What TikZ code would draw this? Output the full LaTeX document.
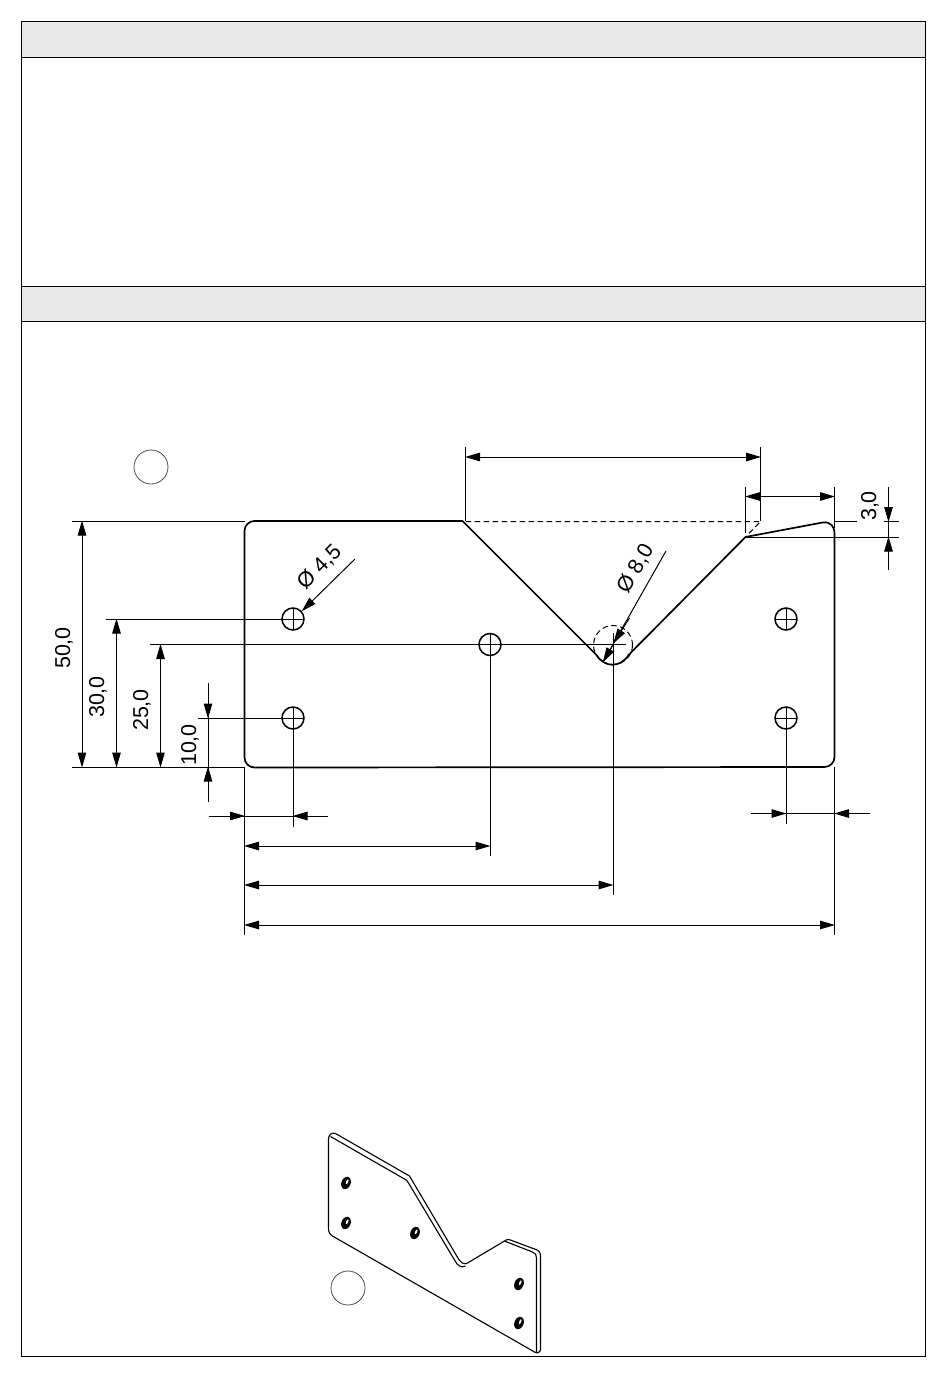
\documentclass[tikz,border=0pt]{standalone}
\usepackage{fontspec}
\setmainfont{Liberation Sans}
\usetikzlibrary{arrows.meta}
\tikzset{
  x=1pt,y=-1pt,
  frameline/.style={draw=black,line width=1pt},
  headerbar/.style={frameline,fill=black!9},
  part/.style={draw=black,line width=1.7pt,line join=round},
  thin3d/.style={draw=black,line width=1.1pt,line join=round},
  hidden/.style={draw=black,line width=1pt,dash pattern=on 5.5pt off 3.5pt},
  ext/.style={draw=black,line width=1pt},
  dimtip/.style={-{Triangle[length=15pt,width=8.5pt]},line width=1pt,shorten >=-0.5pt},
  dim/.style={{Triangle[length=15pt,width=8.5pt]}-{Triangle[length=15pt,width=8.5pt]},line width=1pt,shorten >=-0.5pt,shorten <=-0.5pt},
  dimtext/.style={font=\fontsize{21.5}{21.5}\selectfont,inner sep=0pt},
  hole/.style={draw=black,line width=1.5pt},
  callout/.style={draw=black!70,line width=0.8pt,fill=white},
}
\newcommand{\Hole}[2]{%
  \draw[hole] (#1,#2) circle[radius=11];
  \draw[ext,line width=0.8pt] (#1-11,#2) -- (#1+11,#2) (#1,#2-11) -- (#1,#2+11);
}
\newcommand{\IsoHole}[2]{%
  \fill[black] (#1,#2) ellipse[x radius=4.6,y radius=6.4,rotate=-22];
  \fill[white] (#1+1.2,#2-1.2) ellipse[x radius=1,y radius=2.6,rotate=-22];
}
\begin{document}
\begin{tikzpicture}
\useasboundingbox (0,0) rectangle (950,1378);
\fill[white] (0,0) rectangle (950,1378);
\begin{scope}[xshift=-0.5pt]
% frame
\draw[headerbar] (22,22) rectangle (926,57.5);
\draw[headerbar] (22,286) rectangle (926,321);
\draw[frameline] (22,22) rectangle (926,1356.5);
% callouts
\node[callout,circle,minimum size=34pt,inner sep=0pt] (callA) at (151.5,467) {};
\node[callout,circle,minimum size=34pt,inner sep=0pt] (callB) at (348.5,1288) {};
% plate outline
\draw[part] (255,521) -- (463,521) -- (597,655)
  .. controls (605,668) and (621,668) .. (629,655)
  -- (746,537) -- (823,522.5)
  .. controls (831,521.5) and (835,526) .. (835,534)
  -- (835,757) arc[start angle=0,end angle=90,radius=10]
  -- (255,767.5) arc[start angle=90,end angle=180,radius=10]
  -- (245,531) arc[start angle=180,end angle=270,radius=10] -- cycle;
% hidden construction lines
\draw[hidden] (466,521.5) -- (761,521.5) -- (746,537);
\draw[hidden] (613.5,645) circle[radius=19.5];
% holes
\Hole{293.5}{619}
\Hole{293.5}{718}
\Hole{490.5}{644.5}
\Hole{786.5}{619}
\Hole{786.5}{718}
% extension lines
\draw[ext] (72,521) -- (245,521);
\draw[ext] (72,767.5) -- (245,767.5);
\draw[ext] (106,619) -- (293,619);
\draw[ext] (150,644.5) -- (626,644.5);
\draw[ext] (198,718) -- (293,718);
\draw[ext] (245,767) -- (245,935);
\draw[ext] (293.5,718) -- (293.5,827);
\draw[ext] (490.5,644) -- (490.5,856);
\draw[ext] (613.5,633) -- (613.5,895);
\draw[ext] (786.5,718) -- (786.5,824);
\draw[ext] (835,767) -- (835,935);
\draw[ext] (466,447) -- (466,521);
\draw[ext] (761,447) -- (761,521);
\draw[ext] (746,487) -- (746,533);
\draw[ext] (835,487) -- (835,528);
\draw[ext] (746,537) -- (899,537);
\draw[ext] (835,521.5) -- (857,521.5);
\draw[ext] (884,521.5) -- (899,521.5);
% dimension lines
\draw[dim] (82.5,521) -- (82.5,767);
\draw[dim] (117,619) -- (117,767);
\draw[dim] (161,644.5) -- (161,767);
\draw[ext] (208.5,683) -- (208.5,802);
\draw[dimtip] (208.5,683) -- (208.5,718);
\draw[dimtip] (208.5,802) -- (208.5,767);
\draw[ext] (209,816) -- (328,816);
\draw[dimtip] (209,816) -- (245,816);
\draw[dimtip] (328,816) -- (293.5,816);
\draw[ext] (751,813.5) -- (870,813.5);
\draw[dimtip] (751,813.5) -- (786.5,813.5);
\draw[dimtip] (870,813.5) -- (835,813.5);
\draw[dim] (245,846) -- (490.5,846);
\draw[dim] (245,885) -- (613.5,885);
\draw[dim] (245,925) -- (835,925);
\draw[dim] (466,457) -- (761,457);
\draw[ext] (746,496.5) -- (835,496.5);
\draw[dimtip] (761,496.5) -- (746,496.5);
\draw[dimtip] (820,496.5) -- (835,496.5);
\draw[ext] (889,487) -- (889,570);
\draw[dimtip] (889,487) -- (889,521.5);
\draw[dimtip] (889,570) -- (889,537);
% leaders
\draw[dimtip] (355.5,559) -- (302.5,611);
\draw[ext] (666.5,551) -- (603.5,662);
\draw[dimtip] (630,618) -- (614,643);
\draw[dimtip] (613.5,645) -- (603.5,662);
% dimension text
\node[dimtext,rotate=90] (t50) at (64.5,648) {50,0};
\node[dimtext,rotate=90] (t30) at (98.5,697) {30,0};
\node[dimtext,rotate=90] (t25) at (142.5,710) {25,0};
\node[dimtext,rotate=90] (t10) at (190.5,745) {10,0};
\node[dimtext,rotate=90] (t3) at (870.5,506) {3,0};
\node[dimtext,rotate=45] (td45) at (320,567) {Ø 4,5};
\node[dimtext,rotate=60] (td80) at (636,569) {Ø 8,0};
% isometric part
\draw[thin3d] (329,1139) .. controls (329,1135) and (332,1132) .. (336,1133.5)
  -- (410,1176) -- (459,1259) .. controls (462,1263) and (465,1265) .. (468,1263)
  -- (505,1241) .. controls (507,1239) and (509,1239) .. (511,1240)
  -- (535,1249) .. controls (539,1250) and (541,1252) .. (541,1256)
  -- (541,1349) .. controls (541,1352) and (538,1354) .. (535,1352)
  -- (333,1236) .. controls (330,1234) and (329,1232) .. (329,1228) -- cycle;
\draw[thin3d] (331,1136.5) -- (405,1179) .. controls (407,1180) and (408,1181) .. (409,1183)
  -- (455,1260) .. controls (458,1266) and (462,1268) .. (466,1266) ;
\draw[thin3d] (505,1241) .. controls (507,1242) and (508,1242) .. (510,1243)
  -- (533,1252) .. controls (536,1253) and (537,1255) .. (537,1258) -- (537,1353);
\IsoHole{346.5}{1183}
\IsoHole{346.5}{1223}
\IsoHole{415.5}{1233}
\IsoHole{519.5}{1284}
\IsoHole{519.5}{1323}
\end{scope}
\end{tikzpicture}
\end{document}
